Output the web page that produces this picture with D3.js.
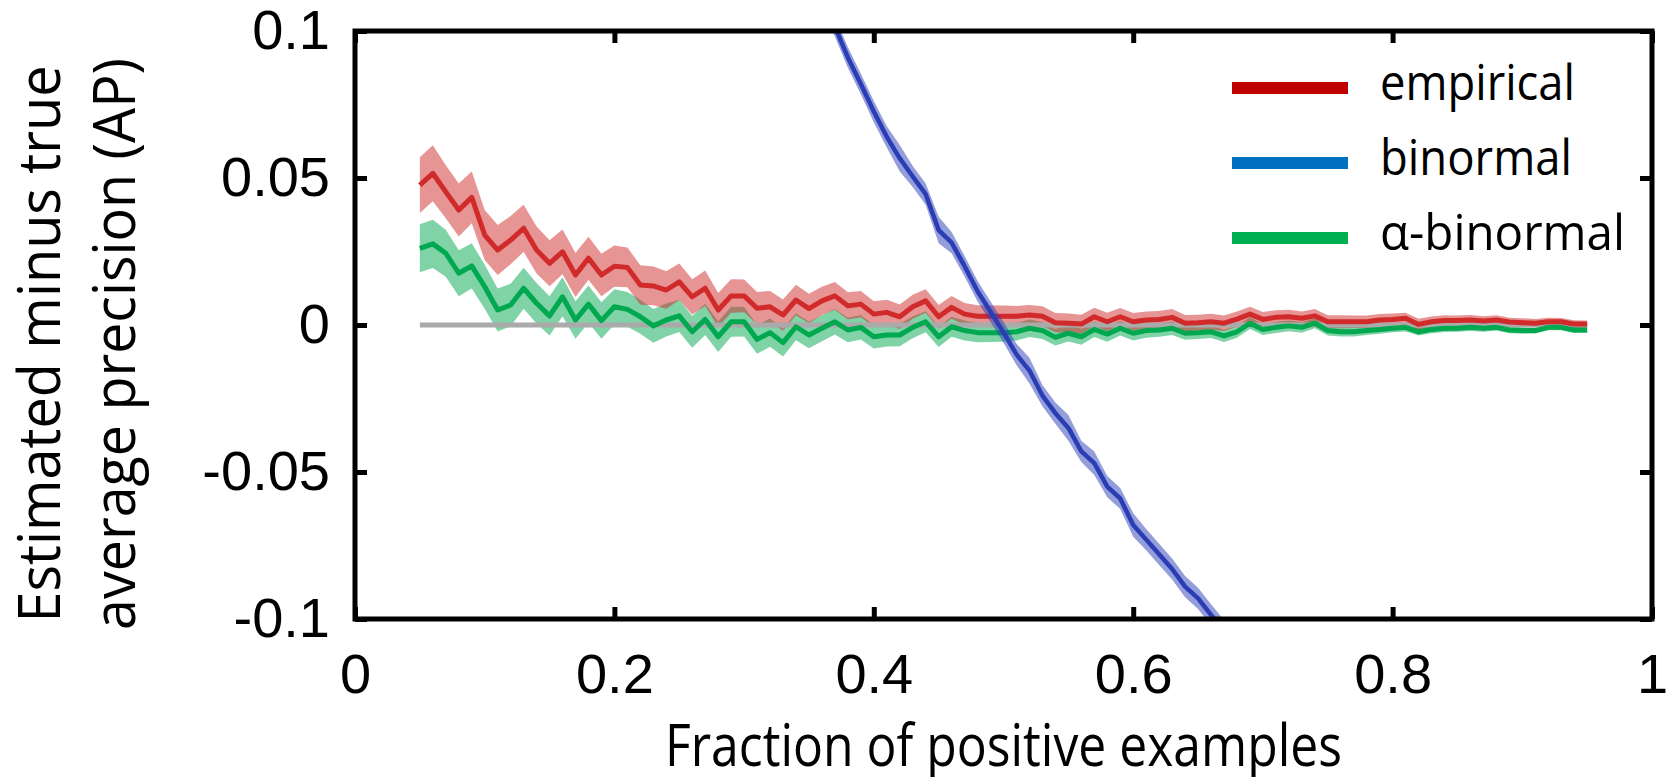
<!DOCTYPE html>
<html><head><meta charset="utf-8">
<script src="https://cdn.jsdelivr.net/npm/d3@7"></script>
<style>body{margin:0;background:#fff;overflow:hidden}</style>
</head><body>
<svg id="chart" width="1666" height="777"></svg>
<script>
// ---------- data ----------
const fractions = [0.05,0.06,0.07,0.08,0.09,0.10,0.11,0.12,0.13,0.14,0.15,0.16,0.17,0.18,0.19,0.20,0.21,0.22,0.23,0.24,0.25,0.26,0.27,0.28,0.29,0.30,0.31,0.32,0.33,0.34,0.35,0.36,0.37,0.38,0.39,0.40,0.41,0.42,0.43,0.44,0.45,0.46,0.47,0.48,0.49,0.50,0.51,0.52,0.53,0.54,0.55,0.56,0.57,0.58,0.59,0.60,0.61,0.62,0.63,0.64,0.65,0.66,0.67,0.68,0.69,0.70,0.71,0.72,0.73,0.74,0.75,0.76,0.77,0.78,0.79,0.80,0.81,0.82,0.83,0.84,0.85,0.86,0.87,0.88,0.89,0.90,0.91,0.92,0.93,0.94,0.95];

const empirical = [0.0476,0.0516,0.0453,0.0391,0.0434,0.0306,0.0255,0.0289,0.0329,0.0255,
  0.0210,0.0249,0.0170,0.0227,0.0170,0.0200,0.0196,0.0136,0.0133,0.0119,
  0.0147,0.0096,0.0125,0.0051,0.0099,0.0099,0.0057,0.0062,0.0034,0.0085,
  0.0056,0.0082,0.0099,0.0065,0.0071,0.0037,0.0043,0.0028,0.0062,0.0082,
  0.0028,0.0060,0.0037,0.0030,0.0030,0.0030,0.0030,0.0034,0.0030,0.0008,
  0.0006,0.0003,0.0028,0.0011,0.0028,0.0011,0.0017,0.0019,0.0026,0.0006,
  0.0008,0.0011,0.0006,0.0020,0.0037,0.0019,0.0026,0.0028,0.0023,0.0031,
  0.0011,0.0011,0.0011,0.0011,0.0017,0.0019,0.0023,0.0002,0.0011,0.0015,
  0.0015,0.0017,0.0014,0.0017,0.0010,0.0008,0.0006,0.0011,0.0011,0.0003,0.0003];

const empiricalErr = [0.0095,0.0095,0.0090,0.0090,0.0088,0.0085,0.0085,0.0082,0.0080,0.0080,
  0.0078,0.0076,0.0075,0.0073,0.0072,0.0070,0.0068,0.0067,0.0066,0.0064,
  0.0062,0.0060,0.0060,0.0058,0.0057,0.0056,0.0055,0.0054,0.0053,0.0052,
  0.0050,0.0048,0.0047,0.0046,0.0045,0.0044,0.0043,0.0042,0.0041,0.0040,
  0.0040,0.0039,0.0038,0.0037,0.0036,0.0036,0.0035,0.0034,0.0034,0.0033,
  0.0033,0.0032,0.0031,0.0031,0.0030,0.0030,0.0029,0.0029,0.0028,0.0028,
  0.0027,0.0027,0.0026,0.0026,0.0025,0.0025,0.0024,0.0024,0.0023,0.0023,
  0.0022,0.0022,0.0021,0.0021,0.0020,0.0020,0.0019,0.0019,0.0018,0.0018,
  0.0017,0.0017,0.0016,0.0016,0.0015,0.0015,0.0014,0.0014,0.0013,0.0013,0.0012];

const alphaBinormal = [0.0261,0.0276,0.0244,0.0176,0.0201,0.0130,0.0051,0.0068,0.0125,0.0074,
  0.0031,0.0096,0.0017,0.0071,0.0015,0.0062,0.0053,0.0028,-0.0003,0.0017,
  0.0031,-0.0023,0.0019,-0.0040,0.0011,0.0011,-0.0049,-0.0026,-0.0060,-0.0006,
  -0.0034,-0.0011,0.0011,-0.0017,-0.0008,-0.0040,-0.0034,-0.0034,-0.0008,0.0011,
  -0.0040,-0.0006,-0.0019,-0.0026,-0.0026,-0.0026,-0.0023,-0.0011,-0.0019,-0.0042,
  -0.0028,-0.0040,-0.0015,-0.0031,-0.0011,-0.0028,-0.0019,-0.0017,-0.0011,-0.0028,
  -0.0026,-0.0023,-0.0037,-0.0023,0.0006,-0.0015,-0.0008,-0.0003,-0.0008,0.0006,
  -0.0019,-0.0023,-0.0023,-0.0019,-0.0015,-0.0011,-0.0008,-0.0023,-0.0015,-0.0011,
  -0.0011,-0.0008,-0.0011,-0.0008,-0.0017,-0.0019,-0.0019,-0.0008,-0.0008,-0.0017,-0.0017];

const alphaBinormalErr = [0.0082,0.0082,0.0080,0.0078,0.0077,0.0075,0.0073,0.0072,0.0070,0.0069,
  0.0067,0.0066,0.0064,0.0063,0.0062,0.0060,0.0059,0.0058,0.0057,0.0056,
  0.0055,0.0054,0.0053,0.0052,0.0051,0.0050,0.0049,0.0048,0.0047,0.0046,
  0.0045,0.0044,0.0043,0.0042,0.0041,0.0040,0.0039,0.0038,0.0037,0.0036,
  0.0035,0.0034,0.0034,0.0033,0.0032,0.0031,0.0030,0.0030,0.0029,0.0028,
  0.0028,0.0027,0.0026,0.0026,0.0025,0.0025,0.0024,0.0023,0.0023,0.0022,
  0.0022,0.0021,0.0021,0.0020,0.0020,0.0019,0.0019,0.0018,0.0018,0.0017,
  0.0017,0.0016,0.0016,0.0015,0.0015,0.0014,0.0014,0.0013,0.0013,0.0013,
  0.0012,0.0012,0.0012,0.0011,0.0011,0.0011,0.0010,0.0010,0.0010,0.0010,0.0010];

const binormalFractions = [0.36,0.37,0.38,0.39,0.40,0.41,0.42,0.43,0.44,0.45,0.46,0.47,0.48,0.49,0.50,0.51,0.52,0.53,0.54,0.55,0.56,0.57,0.58,0.59,0.60,0.61,0.62,0.63,0.64,0.65,0.66,0.67];
const binormal = [0.1090,0.1015,0.0910,0.0820,0.0726,0.0640,0.0567,0.0505,0.0445,0.0323,
  0.0280,0.0200,0.0115,0.0045,-0.0025,-0.0100,-0.0155,-0.0240,-0.0300,-0.0350,
  -0.0430,-0.0470,-0.0550,-0.0590,-0.0680,-0.0730,-0.0780,-0.0830,-0.0890,-0.0930,-0.0986,-0.1040];
const binormalErr = [0.0034,0.0034,0.0035,0.0035,0.0036,0.0036,0.0045,0.0036,0.0036,0.0045,
  0.0036,0.0035,0.0035,0.0035,0.0035,0.0036,0.0044,0.0036,0.0036,0.0044,
  0.0036,0.0040,0.0036,0.0036,0.0040,0.0036,0.0036,0.0036,0.0036,0.0036,0.0036,0.0036];

const zeroLine = [0.05, 0.95];
const xTicks = [0, 0.2, 0.4, 0.6, 0.8, 1];
const xTickLabels = ["0", "0.2", "0.4", "0.6", "0.8", "1"];
const yTicks = [-0.1, -0.05, 0, 0.05, 0.1];
const yTickLabels = ["-0.1", "-0.05", "0", "0.05", "0.1"];
const legendLabels = ["empirical", "binormal", "\u03B1-binormal"];
const legendColors = ["#C00000", "#0070C0", "#00B050"];
const xTitle = "Fraction of positive examples";
const yTitleLines = ["Estimated minus true", "average precision (AP)"];

// ---------- drawing ----------
const svg = d3.select("#chart");
const pLeft = 355, pRight = 1652, pTop = 31, pBottom = 619;
const x = d3.scaleLinear().domain([0, 1]).range([pLeft, pRight]);
const y = d3.scaleLinear().domain([-0.1, 0.1]).range([pBottom, pTop]);

svg.append("defs").append("clipPath").attr("id", "clip")
  .append("rect").attr("x", pLeft).attr("y", pTop).attr("width", pRight - pLeft).attr("height", pBottom - pTop);

const plot = svg.append("g").attr("clip-path", "url(#clip)");

const mk = (xs, vs, es) => xs.map((f, i) => ({x: f, v: vs[i], e: es[i]}));
const emp = mk(fractions, empirical, empiricalErr);
const alp = mk(fractions, alphaBinormal, alphaBinormalErr);
const bin = mk(binormalFractions, binormal, binormalErr);

const area = d3.area().x(d => x(d.x)).y0(d => y(d.v - d.e)).y1(d => y(d.v + d.e));
const line = d3.line().x(d => x(d.x)).y(d => y(d.v));

const colEmp = "#d02a2a", colAlp = "#00a84f", colBin = "#2a3db5";

plot.append("path").datum(alp).attr("d", area).attr("fill", colAlp).attr("fill-opacity", 0.5);
plot.append("path").datum(emp).attr("d", area).attr("fill", colEmp).attr("fill-opacity", 0.5);
plot.append("path").datum(zeroLine.map(f => ({x: f, v: 0}))).attr("d", line)
  .attr("stroke", "#aaaaaa").attr("stroke-width", 5).attr("fill", "none");
plot.append("path").datum(alp).attr("d", line).attr("stroke", colAlp).attr("stroke-width", 5)
  .attr("fill", "none").attr("stroke-linejoin", "round");
plot.append("path").datum(emp).attr("d", line).attr("stroke", colEmp).attr("stroke-width", 5)
  .attr("fill", "none").attr("stroke-linejoin", "round");
plot.append("path").datum(bin).attr("d", area).attr("fill", colBin).attr("fill-opacity", 0.5);
plot.append("path").datum(bin).attr("d", line).attr("stroke", colBin).attr("stroke-width", 4.5)
  .attr("fill", "none").attr("stroke-linejoin", "round");

// axes
const tickFont = "'Liberation Sans', Arial, sans-serif";
function styleAxis(g) {
  g.select(".domain").remove();
  g.selectAll(".tick line").attr("stroke", "#000").attr("stroke-width", 5);
  g.selectAll(".tick text").attr("fill", "#000").style("font-family", tickFont).style("font-size", "56px");
}
svg.append("g").attr("transform", `translate(0,${pBottom})`)
  .call(d3.axisBottom(x).tickValues(xTicks).tickFormat((d, i) => xTickLabels[i])
    .tickSizeInner(-12).tickSizeOuter(0).tickPadding(34)).call(styleAxis);
svg.append("g").attr("transform", `translate(0,${pTop})`)
  .call(d3.axisTop(x).tickValues(xTicks).tickFormat("").tickSizeInner(-12).tickSizeOuter(0)).call(styleAxis);
svg.append("g").attr("transform", `translate(${pLeft},0)`)
  .call(d3.axisLeft(y).tickValues(yTicks).tickFormat((d, i) => yTickLabels[i])
    .tickSizeInner(-12).tickSizeOuter(0).tickPadding(25)).call(styleAxis);
svg.append("g").attr("transform", `translate(${pRight},0)`)
  .call(d3.axisRight(y).tickValues(yTicks).tickFormat("").tickSizeInner(-12).tickSizeOuter(0)).call(styleAxis);

svg.append("rect").attr("x", pLeft).attr("y", pTop).attr("width", pRight - pLeft).attr("height", pBottom - pTop)
  .attr("fill", "none").attr("stroke", "#000").attr("stroke-width", 5);

// titles
const titleFont = "'Open Sans', 'Noto Sans', sans-serif";
svg.append("text").attr("x", (pLeft + pRight) / 2).attr("y", 766).attr("text-anchor", "middle")
  .style("font-family", titleFont).style("font-size", "58px")
  .attr("textLength", 677).attr("lengthAdjust", "spacingAndGlyphs").text(xTitle);

const yTitleX = [60, 135], yTitleLen = [557, 572];
yTitleLines.forEach((t, i) => {
  svg.append("text").attr("transform", `translate(${yTitleX[i]},344) rotate(-90)`)
    .attr("text-anchor", "middle").style("font-family", titleFont).style("font-size", "58px")
    .attr("textLength", yTitleLen[i]).attr("lengthAdjust", "spacingAndGlyphs").text(t);
});

// legend
const legLen = [195, 192, 245];
const leg = svg.append("g");
legendLabels.forEach((lab, i) => {
  const ly = 88 + i * 75;
  leg.append("line").attr("x1", 1232).attr("x2", 1348).attr("y1", ly).attr("y2", ly)
    .attr("stroke", legendColors[i]).attr("stroke-width", 12);
  leg.append("text").attr("x", 1380).attr("y", ly + 12)
    .style("font-family", titleFont).style("font-size", "50px")
    .attr("textLength", legLen[i]).attr("lengthAdjust", "spacingAndGlyphs").text(lab);
});
</script>
</body></html>
